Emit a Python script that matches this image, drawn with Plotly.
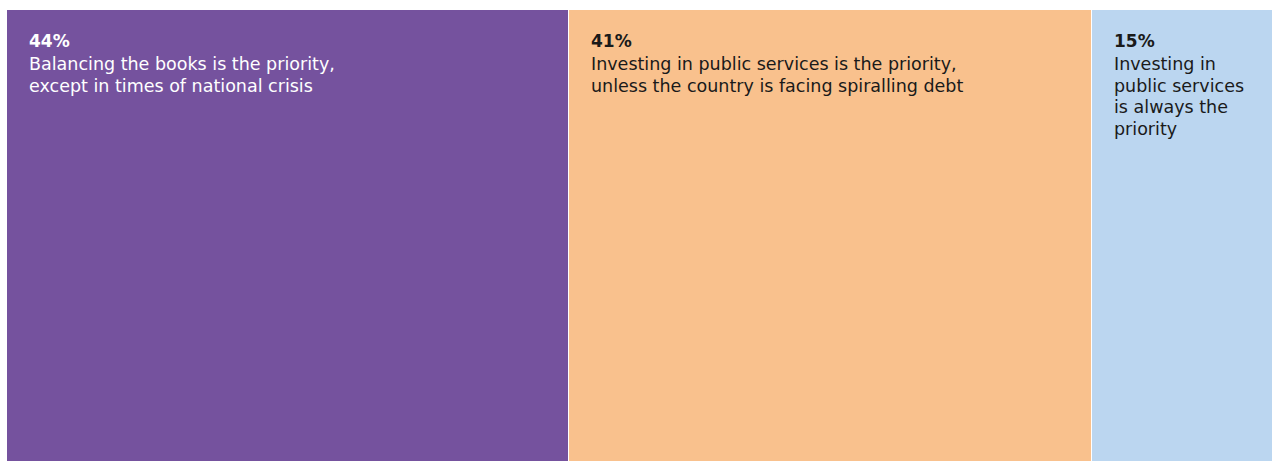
import plotly.graph_objects as go

# Survey shares, in percent
shares = [44, 41, 15]
headlines = ["44%", "41%", "15%"]
descriptions = [
    ["Balancing the books is the priority,", "except in times of national crisis"],
    ["Investing in public services is the priority,", "unless the country is facing spiralling debt"],
    ["Investing in", "public services", "is always the", "priority"],
]
fill_colors = ["#75529E", "#F9C18D", "#BBD6F0"]
text_colors = ["#FFFFFF", "#1A1A1A", "#1A1A1A"]

FONT = "'DejaVu Sans', sans-serif"
HEAD_SIZE = 17
BODY_SIZE = 17.5
LINE_STEP = 21.5   # px between body baselines

fig = go.Figure()
starts = []
running = 0
for share, color in zip(shares, fill_colors):
    starts.append(running)
    fig.add_trace(go.Bar(
        x=[share], y=[0], orientation="h", width=1,
        marker=dict(color=color, line=dict(color="#FFFFFF", width=1.5)),
        hoverinfo="skip", showlegend=False,
    ))
    running += share


def label(x, text, shift, size, color):
    fig.add_annotation(
        x=x, y=0.5, xref="x", yref="y",
        xanchor="left", yanchor="top", align="left",
        xshift=20, yshift=shift,
        showarrow=False, text=text,
        font=dict(family=FONT, size=size, color=color),
    )


for start, head, lines, tcol in zip(starts, headlines, descriptions, text_colors):
    # bold percentage on top, description lines below it
    label(start, f"<b>{head}</b>", -19.3, HEAD_SIZE, tcol)
    for i, line in enumerate(lines):
        label(start, line, -(42.5 + LINE_STEP * i), BODY_SIZE, tcol)

fig.update_layout(
    width=1272, height=461,
    margin=dict(l=0, r=0, t=0, b=0),
    barmode="stack", bargap=0,
    paper_bgcolor="#FFFFFF", plot_bgcolor="#FFFFFF",
    xaxis=dict(range=[-0.548, 99.06], visible=False, fixedrange=True),
    yaxis=dict(range=[-0.45, 0.52], visible=False, fixedrange=True),
)

fig.write_html("out.html")
